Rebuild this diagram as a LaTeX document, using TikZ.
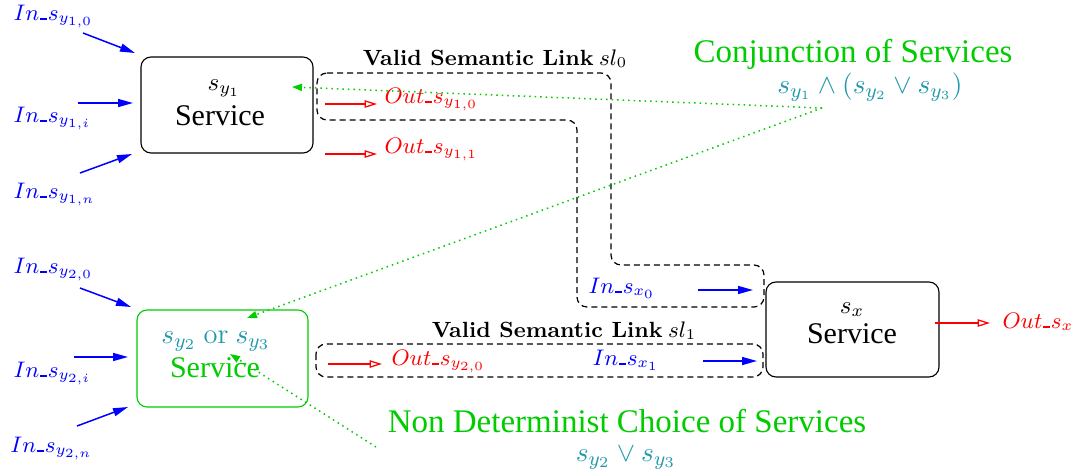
\documentclass[tikz,border=0pt]{standalone}
\usepackage[no-math]{fontspec}
\setmainfont{Liberation Serif}
\usetikzlibrary{arrows.meta}
\definecolor{fgreen}{rgb}{0,0.8,0}
\definecolor{fteal}{rgb}{0.13,0.6,0.67}
\newcommand{\cmtext}{\usefont{TU}{lmr}{m}{n}}
\newcommand{\cmbold}{\usefont{TU}{lmr}{bx}{n}}
\newcommand{\usc}{\mbox{\kern0.04em\rule{0.3em}{0.75pt}\kern0.04em}}

\begin{document}
\begin{tikzpicture}[x=0.4pt,y=-0.4pt,
	every node/.style={inner sep=0pt,font=\fontsize{12}{14}\selectfont},
	svcbox/.style={draw,rounded corners=4pt,line width=0.45pt},
	inarrow/.style={blue,line width=0.6pt,-{Triangle[length=6pt,width=3.2pt]}},
	outarrow/.style={red,line width=0.5pt,-{Triangle[open,length=5pt,width=3pt]}},
	linkpath/.style={dash pattern=on 2.4pt off 1.6pt,line width=0.5pt,rounded corners=4pt},
	choicearrow/.style={fgreen,dash pattern=on 0.6pt off 1.6pt,line width=0.6pt,-{Triangle[length=4pt,width=2.8pt]}},
	inlabel/.style={blue,anchor=base west,font=\fontsize{9}{11}\selectfont},
	outlabel/.style={red,anchor=base west,font=\fontsize{9}{11}\selectfont},
	svcname/.style={anchor=base,font=\fontsize{10}{12}\selectfont},
	linklabel/.style={anchor=base,font=\fontsize{8.8}{11}\selectfont},
	bigtitle/.style={fgreen,anchor=base,font=\fontsize{13.2}{15}\selectfont},
	formula/.style={anchor=base,fteal,font=\fontsize{11.4}{13}\selectfont},
	]
		%%%%% START %%%%%
		\useasboundingbox (0,0) rectangle (1080,475);
		
		% services
		\node[svcbox,minimum width=68.8pt,minimum height=38.4pt] (sy1) at (227,105) {};
		\node[svcname] (sy1name) at (224,90) {$s_{y_1}$};
		\node[anchor=base] (sy1text) at (220,125) {Service};
		
		\node[svcbox,draw=fgreen,minimum width=68.4pt,minimum height=38.8pt] (sy23) at (222.5,358.5) {};
		\node[formula] (sy23name) at (216,343) {$s_{y_2}$ {\cmtext or} $s_{y_3}$};
		\node[anchor=base,fgreen] (sy23text) at (215,377) {Service};
		
		\node[svcbox,minimum width=69.2pt,minimum height=38pt] (sx) at (852.5,329.5) {};
		\node[svcname] (sxname) at (852,313) {$s_x$};
		\node[anchor=base] (sxtext) at (852,343) {Service};
		
		% inputs of s_y1
		\node[inlabel] (in10) at (13,20) {$In\usc s_{y_{1,0}}$};
		\node[inlabel] (in1i) at (13,122) {$In\usc s_{y_{1,i}}$};
		\node[inlabel] (in1n) at (13,198) {$In\usc s_{y_{1,n}}$};
		\coordinate (a10) at (83,33);  \coordinate (b10) at (135,53);
		\coordinate (a1i) at (78,103); \coordinate (b1i) at (133,103);
		\coordinate (a1n) at (80,173); \coordinate (b1n) at (132,154);
		\draw[inarrow] (a10) -- (b10);
		\draw[inarrow] (a1i) -- (b1i);
		\draw[inarrow] (a1n) -- (b1n);
		
		% inputs of s_y2 or s_y3
		\node[inlabel] (in20) at (13,273) {$In\usc s_{y_{2,0}}$};
		\node[inlabel] (in2i) at (13,377) {$In\usc s_{y_{2,i}}$};
		\node[inlabel] (in2n) at (10,452) {$In\usc s_{y_{2,n}}$};
		\coordinate (a20) at (80,288); \coordinate (b20) at (131,307);
		\coordinate (a2i) at (74,357); \coordinate (b2i) at (128,357);
		\coordinate (a2n) at (77,426); \coordinate (b2n) at (128,407);
		\draw[inarrow] (a20) -- (b20);
		\draw[inarrow] (a2i) -- (b2i);
		\draw[inarrow] (a2n) -- (b2n);
		
		% outputs
		\node[outlabel] (out10) at (384,103) {$Out\usc s_{y_{1,0}}$};
		\node[outlabel] (out11) at (384,153) {$Out\usc s_{y_{1,1}}$};
		\node[outlabel] (out20) at (391,365) {$Out\usc s_{y_{2,0}}$};
		\node[outlabel] (outx) at (1002,328) {$Out\usc s_x$};
		\coordinate (c10) at (325,104); \coordinate (d10) at (377,104);
		\coordinate (c11) at (325,154); \coordinate (d11) at (377,154);
		\coordinate (c20) at (328,364); \coordinate (d20) at (382,364);
		\coordinate (cx) at (935,323);  \coordinate (dx) at (990,323);
		\draw[outarrow] (c10) -- (d10);
		\draw[outarrow] (c11) -- (d11);
		\draw[outarrow] (c20) -- (d20);
		\draw[outarrow] (cx) -- (dx);
		
		% inputs of s_x
		\node[inlabel] (inx0) at (588,293) {$In\usc s_{x_0}$};
		\node[inlabel] (inx1) at (592,365) {$In\usc s_{x_1}$};
		\coordinate (ax0) at (698,290); \coordinate (bx0) at (753,290);
		\coordinate (ax1) at (703,361); \coordinate (bx1) at (757,361);
		\draw[inarrow] (ax0) -- (bx0);
		\draw[inarrow] (ax1) -- (bx1);
		
		% semantic links
		\draw[linkpath] (317,73) -- (611,73) -- (611,265) -- (764,265) -- (764,307) -- (577,307) -- (577,120) -- (317,120) -- cycle;
		\draw[linkpath] (316,344) rectangle (763,377);
		\node[linklabel] (link0) at (495,65) {{\cmbold Valid Semantic Link} $sl_0$};
		\node[linklabel] (link1) at (564,337) {{\cmbold Valid Semantic Link} $sl_1$};
		
		% compositions
		\node[bigtitle] (conj) at (853,62) {Conjunction of Services};
		\node[formula,font=\fontsize{10.8}{13}\selectfont] (conjf) at (870,93) {$s_{y_1}\wedge(s_{y_2}\vee s_{y_3})$};
		\node[bigtitle] (choice) at (627,432) {Non Determinist Choice of Services};
		\node[formula] (choicef) at (626,461) {$s_{y_2}\vee s_{y_3}$};
		
		\coordinate (conjpt) at (822,108);
		\coordinate (choicept) at (376,447);
		\coordinate (tip1) at (292,87);
		\coordinate (tip2) at (247,318);
		\coordinate (tip3) at (230,354);
		\draw[choicearrow] (conjpt) -- (tip1);
		\draw[choicearrow] (conjpt) -- (tip2);
		\draw[choicearrow] (choicept) -- (tip3);
		
		%%%%% END %%%%%
\end{tikzpicture}
\end{document}
